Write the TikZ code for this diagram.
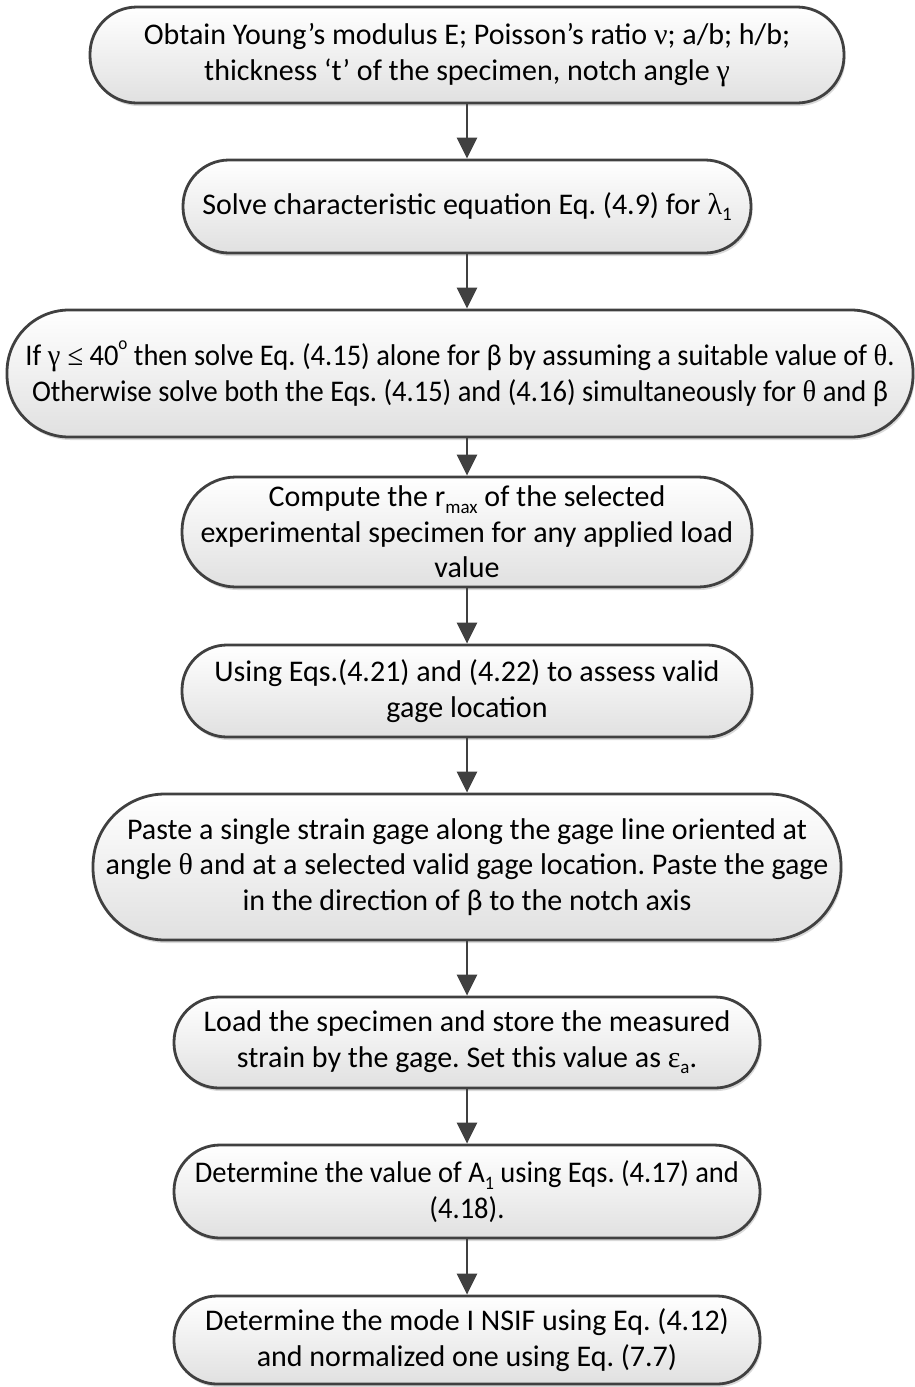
\documentclass[tikz,border=0pt]{standalone}
\usepackage{fontspec}
\setmainfont{Carlito}
\newfontfamily\gk{Liberation Serif}
\newfontfamily\condfont[FakeStretch=0.95]{Carlito}
\newfontfamily\condgk[FakeStretch=0.95]{Liberation Serif}
\usetikzlibrary{arrows.meta,shadows}
\definecolor{edgegray}{HTML}{404040}
\newcommand\lowidx[1]{\raisebox{-0.22em}{\fontsize{19}{19}\selectfont #1}}
\newcommand\highidx[1]{\raisebox{0.55em}{\fontsize{18}{18}\selectfont #1}}
\begin{document}
\begin{tikzpicture}[x=1pt,y=-1pt,
  flowbox/.style={draw=edgegray, line width=2.8pt, top color=white, bottom color=black!12,
    align=center, inner sep=0pt, font=\fontsize{30}{35.5}\selectfont\frenchspacing,
    drop shadow={shadow xshift=1.5pt, shadow yshift=-3pt, opacity=0.15, fill=black}},
  flowarrow/.style={draw=edgegray, line width=2.8pt, -{Triangle[length=21pt,width=20pt]}}]
\useasboundingbox (0,0) rectangle (914,1387);

\node[flowbox, minimum width=754, minimum height=96, rounded corners=47] (b1) at (467,55)
  {Obtain Young’s modulus E; Poisson’s ratio {\gk ν}; a/b; h/b;\\thickness ‘t’ of the specimen, notch angle {\gk γ}};

\node[flowbox, minimum width=568, minimum height=93, rounded corners=46] (b2) at (467,206.5)
  {Solve characteristic equation Eq. (4.9) for {\gk λ}\lowidx{1}};

\node[flowbox, minimum width=906, minimum height=127, rounded corners=62, font=\fontsize{30}{35.5}\condfont\frenchspacing] (b3) at (460,373.5)
  {If {\condgk γ ≤} 40\highidx{o} then solve Eq. (4.15) alone for β by assuming a suitable value of {\condgk θ}.\\Otherwise solve both the Eqs. (4.15) and (4.16) simultaneously for {\condgk θ} and β};

\node[flowbox, minimum width=570, minimum height=110, rounded corners=54] (b4) at (467,532)
  {Compute the r\lowidx{max} of the selected\\experimental specimen for any applied load\\value};

\node[flowbox, minimum width=570, minimum height=92, rounded corners=45] (b5) at (467,691)
  {Using Eqs.(4.21) and (4.22) to assess valid\\gage location};

\node[flowbox, minimum width=748, minimum height=146, rounded corners=72] (b6) at (467,867)
  {Paste a single strain gage along the gage line oriented at\\angle {\gk θ} and at a selected valid gage location. Paste the gage\\in the direction of β to the notch axis};

\node[flowbox, minimum width=586, minimum height=91, rounded corners=45] (b7) at (467,1042.5)
  {Load the specimen and store the measured\\strain by the gage. Set this value as {\gk ε}\lowidx{a}.};

\node[flowbox, minimum width=586, minimum height=93, rounded corners=46, font=\fontsize{30}{35.5}\condfont\frenchspacing] (b8) at (467,1191.5)
  {Determine the value of A\lowidx{1} using Eqs. (4.17) and\\(4.18).};

\node[flowbox, minimum width=586, minimum height=88, rounded corners=43] (b9) at (467,1340)
  {Determine the mode I NSIF using Eq. (4.12)\\and normalized one using Eq. (7.7)};

\draw[flowarrow] (b1.south) -- (b2.north);
\draw[flowarrow] (b2.south) -- (b2.south |- b3.north);
\draw[flowarrow] (b3.south -| b4.north) -- (b4.north);
\draw[flowarrow] (b4.south) -- (b5.north);
\draw[flowarrow] (b5.south) -- (b6.north);
\draw[flowarrow] (b6.south) -- (b7.north);
\draw[flowarrow] (b7.south) -- (b8.north);
\draw[flowarrow] (b8.south) -- (b9.north);
\end{tikzpicture}
\end{document}
